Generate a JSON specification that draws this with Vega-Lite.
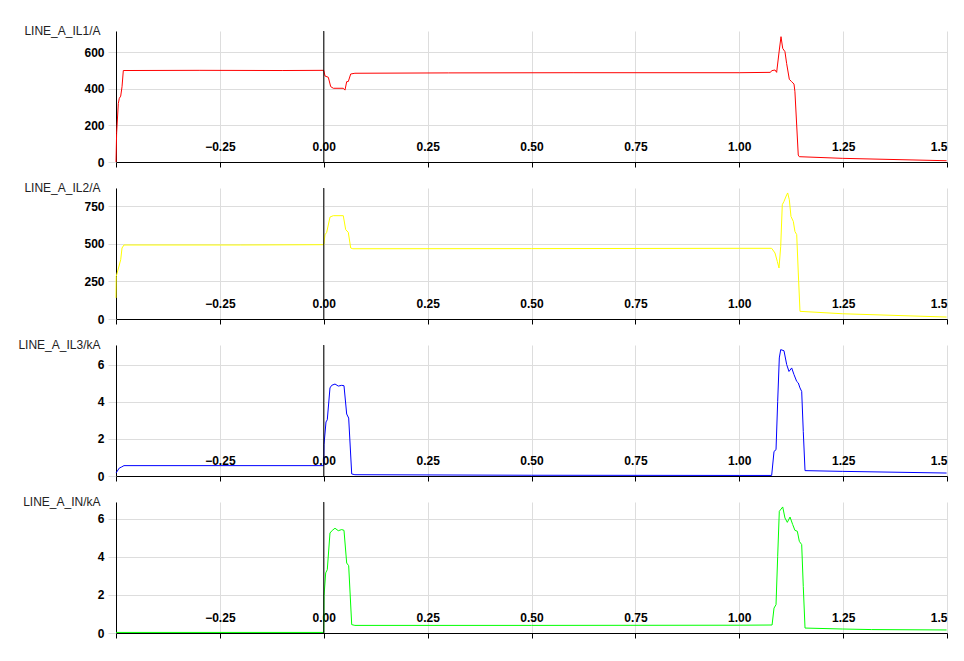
{
  "$schema": "https://vega.github.io/schema/vega-lite/v6.json",
  "autosize": {"type": "pad"},
  "padding": {"left": 17, "top": 24, "right": 17, "bottom": 10},
  "background": "white",
  "bounds": "flush",
  "spacing": 26,
  "config": {
    "view": {"stroke": null},
    "font": "Liberation Sans",
    "axis": {
      "labelFont": "Liberation Sans", "labelFontWeight": "bold", "labelFontSize": 12, "labelColor": "#000",
      "gridColor": "#dddddd", "gridWidth": 1, "domainColor": "#000", "domainWidth": 1,
      "titleFont": "Liberation Sans", "titleFontWeight": "normal", "titleFontSize": 12, "titleColor": "#222"
    }
  },
  "datasets": {
    "il1": [
      {"t": -0.5, "v": 0}, {"t": -0.4985, "v": 157}, {"t": -0.4944, "v": 320}, {"t": -0.492, "v": 348},
      {"t": -0.4887, "v": 360}, {"t": -0.4855, "v": 411}, {"t": -0.4824, "v": 500}, {"t": -0.3, "v": 501},
      {"t": -0.1, "v": 500}, {"t": 0.0, "v": 501}, {"t": 0.003, "v": 470}, {"t": 0.011, "v": 463},
      {"t": 0.0167, "v": 412}, {"t": 0.023, "v": 403}, {"t": 0.047, "v": 403}, {"t": 0.0511, "v": 393},
      {"t": 0.0552, "v": 439}, {"t": 0.0591, "v": 440}, {"t": 0.0649, "v": 481}, {"t": 0.075, "v": 485},
      {"t": 0.3, "v": 487}, {"t": 0.6, "v": 488}, {"t": 1.0, "v": 488}, {"t": 1.075, "v": 490},
      {"t": 1.078, "v": 499}, {"t": 1.086, "v": 503}, {"t": 1.09, "v": 490}, {"t": 1.0964, "v": 612},
      {"t": 1.1005, "v": 685}, {"t": 1.1046, "v": 621}, {"t": 1.11, "v": 603}, {"t": 1.114, "v": 539},
      {"t": 1.1205, "v": 452}, {"t": 1.126, "v": 439}, {"t": 1.1318, "v": 426}, {"t": 1.134, "v": 384},
      {"t": 1.142, "v": 38}, {"t": 1.1445, "v": 29}, {"t": 1.248, "v": 20}, {"t": 1.499, "v": 7}
    ],
    "il2": [
      {"t": -0.5, "v": 140}, {"t": -0.4995, "v": 283}, {"t": -0.494, "v": 339}, {"t": -0.4887, "v": 394},
      {"t": -0.4855, "v": 472}, {"t": -0.4808, "v": 492}, {"t": -0.2, "v": 492}, {"t": 0.0, "v": 494},
      {"t": 0.003, "v": 560}, {"t": 0.0071, "v": 576}, {"t": 0.0151, "v": 678}, {"t": 0.023, "v": 687},
      {"t": 0.047, "v": 687}, {"t": 0.0528, "v": 594}, {"t": 0.0591, "v": 576}, {"t": 0.0649, "v": 472},
      {"t": 0.07, "v": 467}, {"t": 0.5, "v": 468}, {"t": 1.0, "v": 470}, {"t": 1.078, "v": 470},
      {"t": 1.086, "v": 439}, {"t": 1.0916, "v": 383}, {"t": 1.0957, "v": 339}, {"t": 1.0998, "v": 483},
      {"t": 1.1036, "v": 760}, {"t": 1.1077, "v": 782}, {"t": 1.1142, "v": 826}, {"t": 1.1166, "v": 838},
      {"t": 1.1205, "v": 793}, {"t": 1.1245, "v": 682}, {"t": 1.1301, "v": 649}, {"t": 1.134, "v": 582},
      {"t": 1.1383, "v": 561}, {"t": 1.1421, "v": 306}, {"t": 1.1462, "v": 51}, {"t": 1.248, "v": 35},
      {"t": 1.499, "v": 13}
    ],
    "il3": [
      {"t": -0.5, "v": 0.16}, {"t": -0.492, "v": 0.43}, {"t": -0.4864, "v": 0.49}, {"t": -0.4808, "v": 0.56},
      {"t": 0.0, "v": 0.56}, {"t": 0.0006, "v": 1.69}, {"t": 0.0054, "v": 2.92}, {"t": 0.0085, "v": 3.04},
      {"t": 0.015, "v": 4.76}, {"t": 0.0191, "v": 4.9}, {"t": 0.0271, "v": 4.97}, {"t": 0.035, "v": 4.86},
      {"t": 0.0432, "v": 4.9}, {"t": 0.0487, "v": 4.88}, {"t": 0.0552, "v": 3.35}, {"t": 0.06, "v": 3.13},
      {"t": 0.0673, "v": 0.11}, {"t": 0.075, "v": 0.07}, {"t": 0.5, "v": 0.04}, {"t": 1.0, "v": 0.03},
      {"t": 1.078, "v": 0.03}, {"t": 1.0837, "v": 1.33}, {"t": 1.0885, "v": 1.42}, {"t": 1.0925, "v": 4.03},
      {"t": 1.0964, "v": 6.38}, {"t": 1.0998, "v": 6.83}, {"t": 1.1077, "v": 6.77}, {"t": 1.1142, "v": 6.02},
      {"t": 1.1197, "v": 5.65}, {"t": 1.1262, "v": 5.84}, {"t": 1.1318, "v": 5.48}, {"t": 1.1383, "v": 5.11},
      {"t": 1.1421, "v": 5.03}, {"t": 1.1462, "v": 4.76}, {"t": 1.1503, "v": 4.57}, {"t": 1.1541, "v": 2.41},
      {"t": 1.1583, "v": 0.29}, {"t": 1.248, "v": 0.25}, {"t": 1.499, "v": 0.16}
    ],
    "in": [
      {"t": -0.5, "v": 0.03}, {"t": 0.0, "v": 0.03}, {"t": 0.0006, "v": 1.93}, {"t": 0.0047, "v": 3.16},
      {"t": 0.0085, "v": 3.33}, {"t": 0.015, "v": 5.26}, {"t": 0.0206, "v": 5.4}, {"t": 0.0271, "v": 5.51},
      {"t": 0.035, "v": 5.38}, {"t": 0.0432, "v": 5.44}, {"t": 0.0487, "v": 5.4}, {"t": 0.0552, "v": 3.68},
      {"t": 0.06, "v": 3.54}, {"t": 0.0673, "v": 0.44}, {"t": 0.075, "v": 0.4}, {"t": 0.5, "v": 0.4},
      {"t": 1.0, "v": 0.41}, {"t": 1.079, "v": 0.42}, {"t": 1.0837, "v": 1.31}, {"t": 1.0885, "v": 1.49},
      {"t": 1.0925, "v": 4.03}, {"t": 1.0964, "v": 6.4}, {"t": 1.1046, "v": 6.63}, {"t": 1.11, "v": 6.05},
      {"t": 1.1157, "v": 5.82}, {"t": 1.1222, "v": 6.1}, {"t": 1.1287, "v": 5.7}, {"t": 1.134, "v": 5.4},
      {"t": 1.1398, "v": 5.35}, {"t": 1.1446, "v": 4.82}, {"t": 1.1503, "v": 4.65}, {"t": 1.1541, "v": 2.45},
      {"t": 1.1583, "v": 0.26}, {"t": 1.248, "v": 0.21}, {"t": 1.318, "v": 0.18}, {"t": 1.499, "v": 0.16}
    ],
    "zero": [{"t": 0}]
  },
  "vconcat": [
    {
      "width": 831, "height": 131,
      "layer": [
        {
          "data": {"name": "il1"},
          "mark": {"type": "line", "color": "#ff0000", "strokeWidth": 1},
          "encoding": {
            "x": {"field": "t", "type": "quantitative", "scale": {"domain": [-0.5, 1.5], "nice": false},
              "axis": {"title": null, "values": [-0.5, -0.25, 0, 0.25, 0.5, 0.75, 1, 1.25, 1.5], "format": ".2f",
                "labelExpr": "datum.value < -0.4 ? '' : (datum.value > 1.4 ? '1.5' : datum.label)",
                "tickColor": "#000", "tickSize": 5, "labelPadding": -17, "labelBaseline": "alphabetic", "labelFlush": true}},
            "y": {"field": "v", "type": "quantitative", "scale": {"domain": [0, 716], "nice": false},
              "axis": {"title": "LINE_A_IL1/A", "values": [0, 200, 400, 600], "tickColor": "#dddddd", "tickSize": 8, "labelPadding": 4,
                "titleAngle": 0, "titleAlign": "right", "titleBaseline": "alphabetic", "titleX": -16, "titleY": 3}}
          }
        },
        {
          "data": {"name": "zero"},
          "mark": {"type": "rule", "color": "#000000", "strokeWidth": 1},
          "encoding": {"x": {"field": "t", "type": "quantitative"}}
        }
      ]
    },
    {
      "width": 831, "height": 131,
      "layer": [
        {
          "data": {"name": "il2"},
          "mark": {"type": "line", "color": "#ffff00", "strokeWidth": 1},
          "encoding": {
            "x": {"field": "t", "type": "quantitative", "scale": {"domain": [-0.5, 1.5], "nice": false},
              "axis": {"title": null, "values": [-0.5, -0.25, 0, 0.25, 0.5, 0.75, 1, 1.25, 1.5], "format": ".2f",
                "labelExpr": "datum.value < -0.4 ? '' : (datum.value > 1.4 ? '1.5' : datum.label)",
                "tickColor": "#000", "tickSize": 5, "labelPadding": -17, "labelBaseline": "alphabetic", "labelFlush": true}},
            "y": {"field": "v", "type": "quantitative", "scale": {"domain": [0, 871], "nice": false},
              "axis": {"title": "LINE_A_IL2/A", "values": [0, 250, 500, 750], "tickColor": "#dddddd", "tickSize": 8, "labelPadding": 4,
                "titleAngle": 0, "titleAlign": "right", "titleBaseline": "alphabetic", "titleX": -16, "titleY": 3}}
          }
        },
        {
          "data": {"name": "zero"},
          "mark": {"type": "rule", "color": "#000000", "strokeWidth": 1},
          "encoding": {"x": {"field": "t", "type": "quantitative"}}
        }
      ]
    },
    {
      "width": 831, "height": 131,
      "layer": [
        {
          "data": {"name": "il3"},
          "mark": {"type": "line", "color": "#0000ff", "strokeWidth": 1},
          "encoding": {
            "x": {"field": "t", "type": "quantitative", "scale": {"domain": [-0.5, 1.5], "nice": false},
              "axis": {"title": null, "values": [-0.5, -0.25, 0, 0.25, 0.5, 0.75, 1, 1.25, 1.5], "format": ".2f",
                "labelExpr": "datum.value < -0.4 ? '' : (datum.value > 1.4 ? '1.5' : datum.label)",
                "tickColor": "#000", "tickSize": 5, "labelPadding": -17, "labelBaseline": "alphabetic", "labelFlush": true}},
            "y": {"field": "v", "type": "quantitative", "scale": {"domain": [0, 7.08], "nice": false},
              "axis": {"title": "LINE_A_IL3/kA", "values": [0, 2, 4, 6], "tickColor": "#dddddd", "tickSize": 8, "labelPadding": 4,
                "titleAngle": 0, "titleAlign": "right", "titleBaseline": "alphabetic", "titleX": -16, "titleY": 3}}
          }
        },
        {
          "data": {"name": "zero"},
          "mark": {"type": "rule", "color": "#000000", "strokeWidth": 1},
          "encoding": {"x": {"field": "t", "type": "quantitative"}}
        }
      ]
    },
    {
      "width": 831, "height": 131,
      "layer": [
        {
          "data": {"name": "in"},
          "mark": {"type": "line", "color": "#00ff00", "strokeWidth": 1},
          "encoding": {
            "x": {"field": "t", "type": "quantitative", "scale": {"domain": [-0.5, 1.5], "nice": false},
              "axis": {"title": null, "values": [-0.5, -0.25, 0, 0.25, 0.5, 0.75, 1, 1.25, 1.5], "format": ".2f",
                "labelExpr": "datum.value < -0.4 ? '' : (datum.value > 1.4 ? '1.5' : datum.label)",
                "tickColor": "#000", "tickSize": 5, "labelPadding": -17, "labelBaseline": "alphabetic", "labelFlush": true}},
            "y": {"field": "v", "type": "quantitative", "scale": {"domain": [0, 6.89], "nice": false},
              "axis": {"title": "LINE_A_IN/kA", "values": [0, 2, 4, 6], "tickColor": "#dddddd", "tickSize": 8, "labelPadding": 4,
                "titleAngle": 0, "titleAlign": "right", "titleBaseline": "alphabetic", "titleX": -16, "titleY": 3}}
          }
        },
        {
          "data": {"name": "zero"},
          "mark": {"type": "rule", "color": "#000000", "strokeWidth": 1},
          "encoding": {"x": {"field": "t", "type": "quantitative"}}
        }
      ]
    }
  ]
}
